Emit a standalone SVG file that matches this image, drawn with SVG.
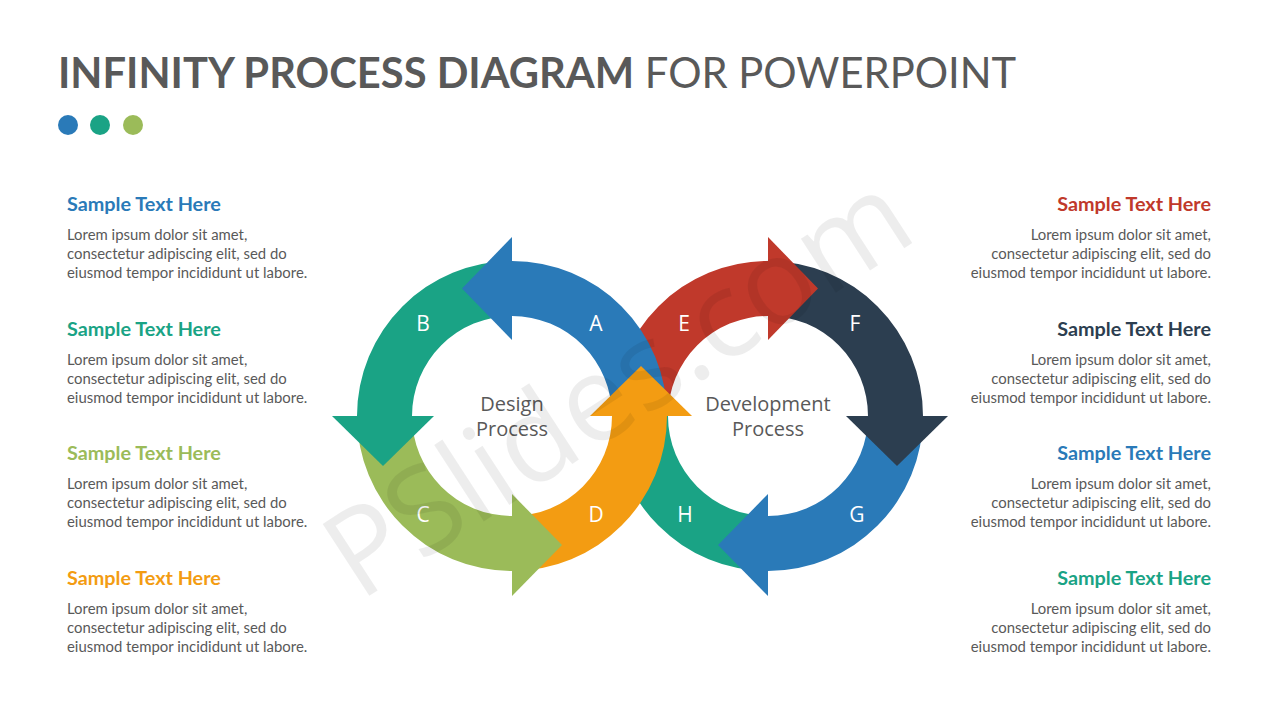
<svg xmlns="http://www.w3.org/2000/svg" width="1280" height="720" viewBox="0 0 1280 720">
<style>
.h{font-family:Lato,"Open Sans",sans-serif;font-weight:bold;font-size:19.8px}
.b{font-family:Lato,"Open Sans",sans-serif;font-size:14.9px;fill:#595959}
.r{text-anchor:end}
.l{font-family:"Open Sans",sans-serif;font-size:21px;fill:#fff;text-anchor:middle}
.c{font-family:"Open Sans",sans-serif;font-size:20px;fill:#595959;text-anchor:middle}
.blue{fill:#2A7AB8}.teal{fill:#1AA385}.green{fill:#9BBB59}.orange{fill:#F39C12}.red{fill:#C0392B}.dark{fill:#2C3E50}
</style>
<rect width="1280" height="720" fill="#fff"/>
<text x="58" y="88" font-family="Lato,'Open Sans',sans-serif" font-size="41.7" fill="#595959"><tspan font-weight="bold">INFINITY PROCESS DIAGRAM</tspan> FOR POWERPOINT</text>
<circle cx="68" cy="125" r="10" class="blue"/><circle cx="100" cy="125" r="10" class="teal"/><circle cx="133" cy="125" r="10" class="green"/>
<g id="ring-right">
<g id="E"><path class="red" d="M613,416 A155,155 0 0 1 768,261 L768,316 A100,100 0 0 0 668,416 Z"/></g>
<g id="F"><path class="dark" d="M768,261 A155,155 0 0 1 923,416 L868,416 A100,100 0 0 0 768,316 Z"/></g>
<g id="G"><path class="blue" d="M923,416 A155,155 0 0 1 768,571 L768,516 A100,100 0 0 0 868,416 Z"/></g>
<g id="H"><path class="teal" d="M768,571 A155,155 0 0 1 613,416 L668,416 A100,100 0 0 0 768,516 Z"/></g>
<path class="red" d="M768,237 L818,288.5 L768,340 Z"/>
<path class="dark" d="M846,416 L948,416 L897,466 Z"/>
<path class="blue" d="M768,494 L768,596 L718,545 Z"/>
</g>
<g id="ring-left">
<g id="A"><path class="blue" d="M667,416 A155,155 0 0 0 512,261 L512,316 A100,100 0 0 1 612,416 Z"/></g>
<g id="B"><path class="teal" d="M512,261 A155,155 0 0 0 357,416 L412,416 A100,100 0 0 1 512,316 Z"/></g>
<g id="C"><path class="green" d="M357,416 A155,155 0 0 0 512,571 L512,516 A100,100 0 0 1 412,416 Z"/></g>
<g id="D"><path class="orange" d="M512,571 A155,155 0 0 0 667,416 L612,416 A100,100 0 0 1 512,516 Z"/></g>
<path class="blue" d="M512,237 L462,288.5 L512,340 Z"/>
<path class="teal" d="M332,416 L434,416 L383,466 Z"/>
<path class="green" d="M512,494 L512,596 L562,545 Z"/>
<path class="orange" d="M590,416 L692,416 L641,366 Z"/>
</g>
<g id="labels">
<text class="l" x="596" y="331">A</text><text class="l" x="423" y="331">B</text><text class="l" x="423" y="522">C</text><text class="l" x="596" y="522">D</text>
<text class="l" x="684" y="331">E</text><text class="l" x="855" y="331">F</text><text class="l" x="857" y="522">G</text><text class="l" x="685" y="522">H</text>
<text class="c" x="512" y="411">Design</text><text class="c" x="512" y="436">Process</text>
<text class="c" x="768" y="411">Development</text><text class="c" x="768" y="436">Process</text>
</g>
<text x="640" y="420" transform="rotate(-33 640 420)" text-anchor="middle" font-family="'Open Sans',sans-serif" font-size="120" fill="#000" fill-opacity="0.07">PSlides.com</text>
<g id="left-text">
<text class="h blue" x="67" y="211">Sample Text Here</text>
<text class="b" x="67" y="240">Lorem ipsum dolor sit amet,</text><text class="b" x="67" y="259">consectetur adipiscing elit, sed do</text><text class="b" x="67" y="278">eiusmod tempor incididunt ut labore.</text>
<text class="h teal" x="67" y="336">Sample Text Here</text>
<text class="b" x="67" y="365">Lorem ipsum dolor sit amet,</text><text class="b" x="67" y="384">consectetur adipiscing elit, sed do</text><text class="b" x="67" y="403">eiusmod tempor incididunt ut labore.</text>
<text class="h green" x="67" y="460">Sample Text Here</text>
<text class="b" x="67" y="489">Lorem ipsum dolor sit amet,</text><text class="b" x="67" y="508">consectetur adipiscing elit, sed do</text><text class="b" x="67" y="527">eiusmod tempor incididunt ut labore.</text>
<text class="h orange" x="67" y="585">Sample Text Here</text>
<text class="b" x="67" y="614">Lorem ipsum dolor sit amet,</text><text class="b" x="67" y="633">consectetur adipiscing elit, sed do</text><text class="b" x="67" y="652">eiusmod tempor incididunt ut labore.</text>
</g>
<g id="right-text">
<text class="h red r" x="1211" y="211">Sample Text Here</text>
<text class="b r" x="1211" y="240">Lorem ipsum dolor sit amet,</text><text class="b r" x="1211" y="259">consectetur adipiscing elit, sed do</text><text class="b r" x="1211" y="278">eiusmod tempor incididunt ut labore.</text>
<text class="h dark r" x="1211" y="336">Sample Text Here</text>
<text class="b r" x="1211" y="365">Lorem ipsum dolor sit amet,</text><text class="b r" x="1211" y="384">consectetur adipiscing elit, sed do</text><text class="b r" x="1211" y="403">eiusmod tempor incididunt ut labore.</text>
<text class="h blue r" x="1211" y="460">Sample Text Here</text>
<text class="b r" x="1211" y="489">Lorem ipsum dolor sit amet,</text><text class="b r" x="1211" y="508">consectetur adipiscing elit, sed do</text><text class="b r" x="1211" y="527">eiusmod tempor incididunt ut labore.</text>
<text class="h teal r" x="1211" y="585">Sample Text Here</text>
<text class="b r" x="1211" y="614">Lorem ipsum dolor sit amet,</text><text class="b r" x="1211" y="633">consectetur adipiscing elit, sed do</text><text class="b r" x="1211" y="652">eiusmod tempor incididunt ut labore.</text>
</g>
</svg>
